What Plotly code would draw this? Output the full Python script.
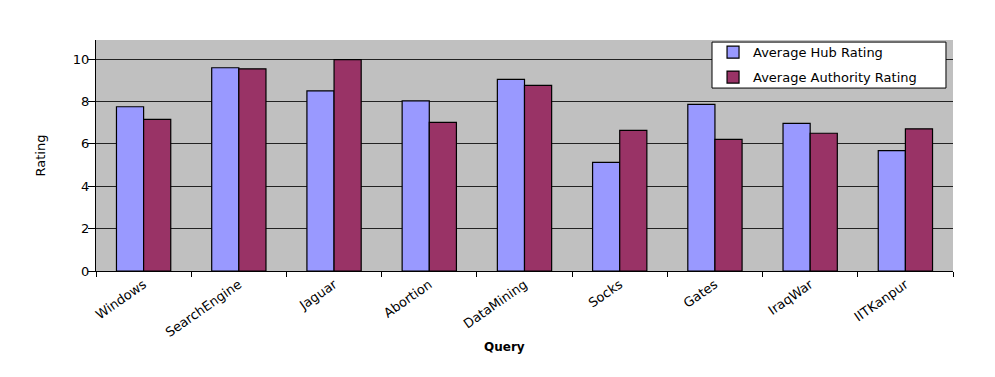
import plotly.graph_objects as go

queries = ["Windows", "SearchEngine", "Jaguar", "Abortion", "DataMining",
           "Socks", "Gates", "IraqWar", "IITKanpur"]
hub_rating = [7.75, 9.59, 8.5, 8.03, 9.04, 5.13, 7.86, 6.97, 5.68]
authority_rating = [7.15, 9.54, 9.97, 7.01, 8.76, 6.64, 6.21, 6.5, 6.71]
y_ticks = [0, 2, 4, 6, 8, 10]

FONT = "DejaVu Sans, Liberation Sans, Arial, sans-serif"

fig = go.Figure()
fig.add_trace(go.Bar(name="Average Hub Rating", x=queries, y=hub_rating, legendgroup="a",
                     marker=dict(color="#9999FF", line=dict(color="black", width=1.2))))
fig.add_trace(go.Bar(name="Average Authority Rating", x=queries, y=authority_rating, legendgroup="b",
                     marker=dict(color="#993366", line=dict(color="black", width=1.2))))

fig.update_layout(
    width=995, height=377,
    margin=dict(l=96, r=42, t=40, b=106),
    paper_bgcolor="white", plot_bgcolor="#C0C0C0",
    barmode="group", bargap=0.43, bargroupgap=0,
    font=dict(family=FONT, color="black"),
    showlegend=True,
    legend=dict(x=0.72, y=1.012, xanchor="left", yanchor="top",
                bgcolor="rgba(0,0,0,0)", borderwidth=0,
                font=dict(size=13, family=FONT), itemwidth=30,
                tracegroupgap=5, traceorder="grouped"),
    shapes=[dict(type="rect", xref="paper", yref="paper",
                 x0=0.7188, x1=0.9918, y0=0.792, y1=0.991,
                 fillcolor="white", line=dict(color="black", width=1), layer="above")],
    xaxis=dict(type="category", tickson="boundaries", ticks="outside", ticklen=5,
               tickcolor="black", showline=True, linecolor="black", linewidth=1,
               tickangle=-35, tickfont=dict(size=13, family=FONT),
               showgrid=False),
    yaxis=dict(range=[0, 10.9], tickvals=y_ticks, ticks="outside", ticklen=7,
               tickcolor="black", showline=True, linecolor="black", linewidth=1,
               gridcolor="#222222", gridwidth=1, zeroline=False,
               tickfont=dict(size=13, family=FONT), ticklabelstandoff=-4,
               title=dict(text="Rating", font=dict(size=13, family=FONT), standoff=24)),
    annotations=[dict(text="<b>Query</b>", x=0.477, y=-0.33, xref="paper", yref="paper",
                      xanchor="center", yanchor="middle", showarrow=False,
                      font=dict(size=12, family=FONT))],
)

fig.write_html("out.html")
